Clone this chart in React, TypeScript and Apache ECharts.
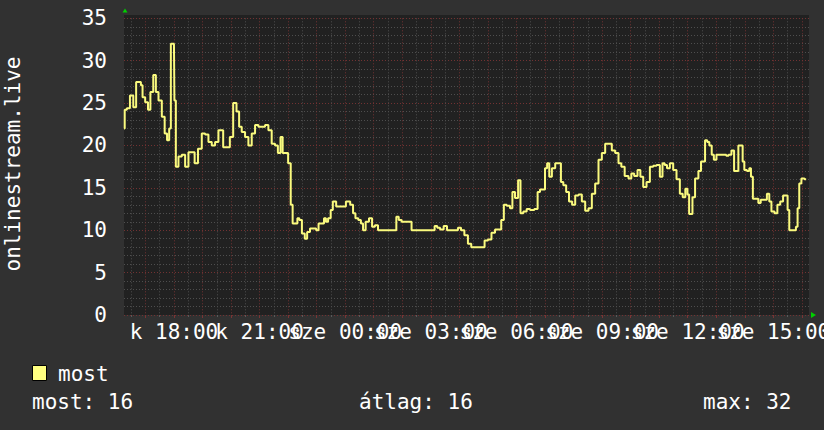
import React, { useEffect, useRef } from "react";
import * as echarts from "echarts";

// ---- data ----
const START_HOUR = 16.25; // 16:15 on day 1 ("k")
const END_HOUR = 40.25; // 16:15 on day 2 ("sze")

// minutes after 16:15
const minutes = [
  0, 3, 9, 16, 23, 28, 34, 37, 41, 48, 53, 58, 65, 69, 76, 83, 88, 93, 97, 100,
  105, 107, 111, 118, 125, 132, 139, 146, 151, 160, 167, 174, 181, 188, 195, 202, 205, 212, 219, 226,
  233, 240, 244, 251, 258, 265, 272, 279, 286, 293, 300, 307, 314, 321, 326, 332, 335, 342, 348, 353,
  356, 363, 366, 371, 377, 383, 387, 395, 402, 406, 412, 418, 423, 426, 432, 437, 441, 451, 461, 472,
  479, 484, 489, 496, 500, 505, 511, 519, 524, 531, 537, 545, 559, 570, 575, 580, 587, 601, 608, 622,
  636, 650, 656, 661, 668, 676, 682, 692, 699, 705, 712, 719, 727, 733, 741, 748, 755, 761, 769, 776,
  784, 790, 796, 801, 808, 815, 818, 826, 831, 836, 843, 850, 857, 868, 871, 878, 883, 887, 892, 896,
  903, 910, 917, 920, 927, 932, 939, 945, 952, 959, 966, 973, 980, 987, 994, 1001, 1008, 1015, 1022, 1029,
  1036, 1043, 1048, 1057, 1064, 1069, 1076, 1083, 1088, 1095, 1102, 1109, 1116, 1123, 1130, 1134, 1139, 1144, 1151, 1158,
  1165, 1172, 1177, 1183, 1186, 1190, 1193, 1197, 1204, 1211, 1215, 1219, 1224, 1228, 1233, 1238, 1242, 1249, 1257, 1264,
  1268, 1274, 1280, 1285, 1289, 1294, 1299, 1302, 1306, 1313, 1316, 1320, 1324, 1331, 1336, 1341, 1348, 1355, 1358, 1364,
  1371, 1376, 1383, 1388, 1393, 1397, 1400, 1411, 1414, 1418, 1421, 1427, 1434,
];

const values = [
  22.0, 24.2, 24.4, 25.9, 24.5, 27.5, 27.5, 27.1, 25.7, 25.1, 24.2, 26.3, 28.3, 26.3, 25.3, 23.4, 21.4, 20.6, 22.0, 32.0,
  32.0, 25.3, 17.5, 18.7, 18.9, 17.5, 19.2, 19.2, 17.9, 19.6, 21.4, 21.3, 20.4, 20.0, 20.4, 21.8, 21.8, 19.8, 19.8, 21.0,
  25.0, 24.0, 22.2, 21.6, 21.0, 20.0, 21.4, 22.4, 22.2, 22.2, 22.4, 21.8, 20.2, 20.0, 19.1, 21.0, 19.1, 19.1, 17.9, 13.0,
  10.8, 10.8, 11.4, 11.2, 9.6, 9.0, 9.8, 10.2, 10.2, 10.0, 10.8, 10.8, 11.4, 11.0, 11.4, 12.4, 13.4, 12.8, 12.8, 13.4,
  13.0, 12.0, 11.4, 11.2, 10.8, 10.0, 11.0, 11.4, 10.4, 10.6, 10.0, 10.0, 10.0, 10.0, 11.6, 11.2, 11.0, 11.0, 10.0, 10.0,
  10.0, 10.0, 10.5, 10.3, 10.1, 10.5, 10.0, 10.0, 10.0, 10.3, 10.0, 9.4, 8.4, 8.0, 8.0, 8.0, 8.0, 8.8, 8.9, 9.7,
  10.1, 10.1, 11.2, 13.0, 12.9, 12.6, 14.5, 13.8, 15.9, 12.0, 12.2, 12.5, 12.4, 12.5, 14.5, 14.8, 14.8, 17.3, 17.9, 16.3,
  17.3, 17.9, 17.9, 15.7, 15.3, 14.5, 13.4, 13.0, 14.1, 14.2, 13.4, 12.3, 12.6, 14.3, 15.5, 18.3, 19.1, 20.2, 20.2, 19.4,
  19.1, 17.9, 17.5, 16.4, 16.1, 16.7, 16.4, 17.1, 16.3, 15.1, 15.7, 17.5, 17.6, 17.7, 16.3, 17.9, 17.7, 17.3, 17.9, 17.1,
  16.0, 14.3, 13.9, 14.9, 14.2, 11.9, 11.9, 13.9, 16.1, 17.0, 18.1, 18.1, 20.6, 20.4, 20.0, 18.9, 18.3, 18.9, 18.9, 18.9,
  18.8, 18.9, 19.4, 17.0, 17.0, 20.0, 20.0, 18.1, 17.1, 17.0, 17.3, 16.3, 13.7, 13.7, 13.2, 13.6, 13.6, 14.3, 13.4, 12.2,
  12.0, 13.0, 13.4, 14.1, 14.1, 12.4, 10.0, 10.0, 10.4, 12.6, 15.5, 16.1, 16.0,
];

const HALF_HOUR_TICKS = [
  16.5, 17.5, 18.5, 19.5, 20.5, 21.5, 22.5, 23.5, 24.5, 25.5, 26.5, 27.5,
  28.5, 29.5, 30.5, 31.5, 32.5, 33.5, 34.5, 35.5, 36.5, 37.5, 38.5, 39.5,
];
const HOUR_TICKS = [
  17, 18, 19, 20, 21, 22, 23, 24, 25, 26, 27, 28,
  29, 30, 31, 32, 33, 34, 35, 36, 37, 38, 39, 40,
];
// time labels every 3 hours, split in two alternating sets
const LABEL_TICKS_A = [18, 24, 30, 36];
const LABEL_TICKS_B = [21, 27, 33, 39];
const DAY_NAMES = ["k", "sze"];

const Y_TITLE = "onlinestream.live";
const SERIES_NAME = "most";
const LEGEND_STATS = ["most: 16", "átlag: 16", "max: 32"];

const FONT = "DejaVu Sans Mono";

function fmtHour(v: number): string {
  const day = v < 24 ? DAY_NAMES[0] : DAY_NAMES[1];
  const h = Math.round(v) % 24;
  return `${day} ${String(h).padStart(2, "0")}:00`;
}

const labelStyle = (vals: number[]) => ({
  customValues: vals,
  formatter: fmtHour,
  color: "#ffffff",
  fontFamily: FONT,
  fontSize: 21,
  margin: 6,
  showMinLabel: true,
  showMaxLabel: true,
  hideOverlap: false,
});

export default function App() {
  const ref = useRef<HTMLDivElement>(null);

  useEffect(() => {
    if (!ref.current) return;
    const chart = echarts.init(ref.current, null, { renderer: "svg" });
    const data = minutes.map((m, i) => [START_HOUR + m / 60, values[i]]);

    const gridLeft = 124;
    const gridTop = 18.3;
    const gridBottomY = 315;

    chart.setOption({
      animation: false,
      backgroundColor: "#313131",
      grid: {
        left: gridLeft,
        top: gridTop,
        width: 685,
        height: gridBottomY - gridTop,
        show: true,
        backgroundColor: "#212121",
        borderWidth: 0,
        containLabel: false,
        outerBoundsMode: "none",
      },
      xAxis: [
        {
          type: "value",
          position: "bottom",
          min: START_HOUR,
          max: END_HOUR,
          axisLine: { show: false },
          axisTick: {
            show: true,
            length: 2,
            customValues: HALF_HOUR_TICKS,
            lineStyle: { color: "#5a5a5a" },
          },
          splitLine: {
            show: true,
            lineStyle: { color: "#4e4e4e", type: [1, 2], width: 1 },
          },
          axisLabel: labelStyle(LABEL_TICKS_A),
        },
        {
          type: "value",
          position: "bottom",
          min: START_HOUR,
          max: END_HOUR,
          axisLine: { show: false },
          axisTick: {
            show: true,
            length: 3,
            customValues: HOUR_TICKS,
            lineStyle: { color: "#7a3434" },
          },
          splitLine: {
            show: true,
            lineStyle: { color: "#723232", type: [1, 2], width: 1 },
          },
          axisLabel: labelStyle(LABEL_TICKS_B),
        },
      ],
      yAxis: {
        type: "value",
        min: 0,
        max: 35,
        interval: 5,
        axisLine: { show: false },
        axisTick: { show: false },
        splitLine: {
          show: true,
          lineStyle: { color: "#723232", type: [1, 2], width: 1 },
        },
        minorTick: { show: false, splitNumber: 5 },
        minorSplitLine: {
          show: true,
          lineStyle: { color: "#4e4e4e", type: [1, 2], width: 1 },
        },
        axisLabel: {
          color: "#ffffff",
          fontFamily: FONT,
          fontSize: 21,
          margin: 17,
          showMinLabel: true,
          showMaxLabel: true,
        },
      },
      series: [
        {
          type: "line",
          name: SERIES_NAME,
          xAxisIndex: 0,
          data,
          step: "middle",
          showSymbol: false,
          lineStyle: { color: "#fafa7e", width: 2 },
          z: 5,
        },
      ],
      graphic: [
        {
          type: "rect",
          shape: { x: gridLeft, y: 15, width: 685, height: gridTop - 15 },
          style: { fill: "#212121" },
          silent: true,
        },
        {
          type: "polygon",
          shape: { points: [[122.5, 12.5], [127.5, 12.5], [125, 8.5]] },
          style: { fill: "#00d000" },
          silent: true,
        },
        {
          type: "polygon",
          shape: { points: [[811, 312], [811, 318], [816, 315]] },
          style: { fill: "#00d000" },
          silent: true,
        },
        {
          type: "text",
          x: 13,
          y: 164,
          rotation: Math.PI / 2,
          style: {
            text: Y_TITLE,
            fill: "#ffffff",
            font: `21px '${FONT}'`,
            align: "center",
            verticalAlign: "middle",
          },
          silent: true,
        },
        {
          type: "rect",
          shape: { x: 32.5, y: 365.5, width: 14, height: 15 },
          style: { fill: "#ffff80", stroke: "#000000", lineWidth: 1 },
          silent: true,
        },
        {
          type: "text",
          x: 58,
          y: 373.5,
          style: {
            text: SERIES_NAME,
            fill: "#ffffff",
            font: `21px '${FONT}'`,
            align: "left",
            verticalAlign: "middle",
          },
          silent: true,
        },
        {
          type: "text",
          x: 32,
          y: 402,
          style: {
            text: LEGEND_STATS[0],
            fill: "#ffffff",
            font: `21px '${FONT}'`,
            align: "left",
            verticalAlign: "middle",
          },
          silent: true,
        },
        {
          type: "text",
          x: 359,
          y: 402,
          style: {
            text: LEGEND_STATS[1],
            fill: "#ffffff",
            font: `21px '${FONT}'`,
            align: "left",
            verticalAlign: "middle",
          },
          silent: true,
        },
        {
          type: "text",
          x: 703,
          y: 402,
          style: {
            text: LEGEND_STATS[2],
            fill: "#ffffff",
            font: `21px '${FONT}'`,
            align: "left",
            verticalAlign: "middle",
          },
          silent: true,
        },
      ],
    });

    return () => {
      chart.dispose();
    };
  }, []);

  return (
    <div
      ref={ref}
      style={{ position: "absolute", left: 0, top: 0, width: 824, height: 430 }}
    />
  );
}
